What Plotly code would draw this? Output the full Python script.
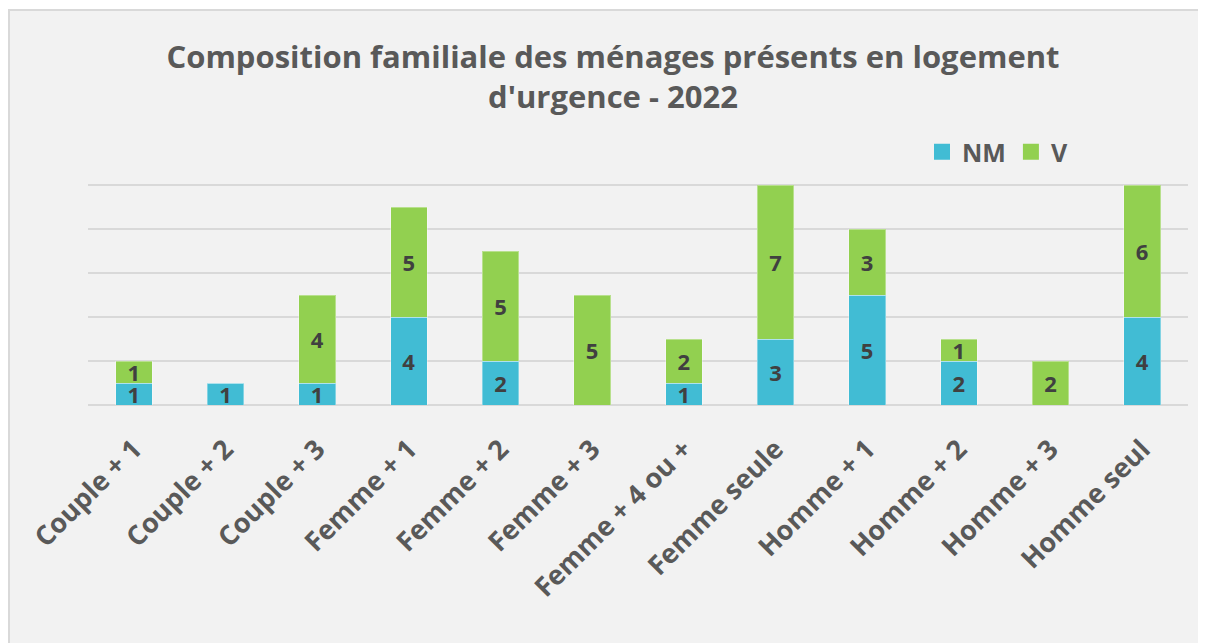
import plotly.graph_objects as go

categories = ["Couple + 1", "Couple + 2", "Couple + 3", "Femme + 1", "Femme + 2",
              "Femme + 3", "Femme + 4 ou +", "Femme seule", "Homme + 1", "Homme + 2",
              "Homme + 3", "Homme seul"]
nm_values = [1, 1, 1, 4, 2, 0, 1, 3, 5, 2, 0, 4]
v_values = [1, 0, 4, 5, 5, 5, 2, 7, 3, 1, 2, 6]
series_names = ["NM", "V"]
series_colors = ["#41BCD4", "#92D050"]
title_text = "Composition familiale des ménages présents en logement<br>d'urgence - 2022"

OFF = 8  # page body margin
W, H = 1206 - OFF, 643 - OFF
L, R, T, B = 88 - OFF, 18, 141 - OFF, 238
pw, ph = W - L - R, H - T - B


def px_x(X):
    return (X - OFF - L) / pw


def px_y(Y):
    return (H - B - (Y - OFF)) / ph


FONT = "Open Sans"
GRAY = "#595959"

fig = go.Figure()
for name, vals, col in zip(series_names, [nm_values, v_values], series_colors):
    fig.add_trace(go.Bar(
        name=name, x=categories, y=vals, showlegend=False,
        marker=dict(color=col, line=dict(color="rgba(255,255,255,0.35)", width=1)),
        text=[str(v) if v else "" for v in vals],
        textposition="inside", insidetextanchor="middle", textangle=0,
        textfont=dict(family=FONT, size=22, color="#404040", weight="bold"),
        constraintext="none", cliponaxis=False,
    ))
# legend entries
for name, col in zip(series_names, series_colors):
    fig.add_trace(go.Scatter(
        name=name, x=[None], y=[None], mode="markers",
        marker=dict(symbol="square", size=18, color=col), showlegend=True,
    ))

fig.add_shape(type="rect", xref="paper", yref="paper",
              x0=px_x(9), x1=px_x(1200), y0=px_y(10), y1=px_y(680),
              fillcolor="#f2f2f2", line=dict(color="#d9d9d9", width=2), layer="below")

fig.update_layout(
    width=W, height=H,
    margin=dict(l=L, r=R, t=T, b=B, autoexpand=False),
    barmode="stack", bargap=0.6,
    paper_bgcolor="white", plot_bgcolor="rgba(0,0,0,0)",
    title=dict(text=title_text, x=(613 - OFF) / W, xanchor="center", xref="container",
               y=1 - (68 - OFF) / H, yanchor="middle", yref="container",
               font=dict(family=FONT, size=31, color=GRAY, weight="bold")),
    legend=dict(orientation="h", x=px_x(922), xanchor="left", y=px_y(152), yanchor="middle",
                font=dict(family=FONT, size=25, color=GRAY, weight="bold"),
                bgcolor="rgba(0,0,0,0)", traceorder="normal", itemsizing="trace",
                itemwidth=30),
    uniformtext=dict(minsize=22, mode="show"),
    xaxis=dict(tickangle=-45, tickfont=dict(family=FONT, size=27, color=GRAY, weight="bold"),
               showline=False, showgrid=False, ticks="", ticklabelstandoff=22),
    yaxis=dict(range=[0, 12], dtick=2, showticklabels=False, showgrid=True,
               gridcolor="#d9d9d9", gridwidth=2, zeroline=True, zerolinecolor="#d9d9d9",
               zerolinewidth=2, ticks=""),
)

fig.write_html("out.html")
